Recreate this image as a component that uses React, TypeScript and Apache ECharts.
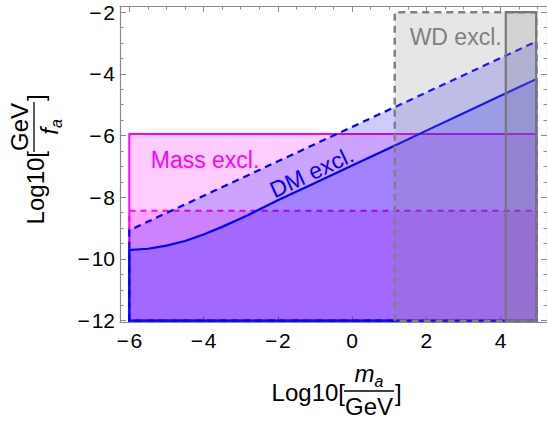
import React, { useEffect, useRef } from 'react';
import * as echarts from 'echarts';

// ---- axis ticks ----
const xMajorTicks = [-6, -4, -2, 0, 2, 4];
const xMinorTicks = [-5.5, -5, -4.5, -3.5, -3, -2.5, -1.5, -1, -0.5, 0.5, 1, 1.5, 2.5, 3, 3.5, 4.5, 5];
const yMajorTicks = [-12, -10, -8, -6, -4, -2];
const yMinorTicks = [-11.5, -11, -10.5, -9.5, -9, -8.5, -7.5, -7, -6.5, -5.5, -5, -4.5, -3.5, -3, -2.5];

// ---- regions ----
const massExclX = [-6, -6, 4.96, 4.96];
const massExclY = [-12, -5.95, -5.95, -12];
const massDashX = [-6, -6, 4.96, 4.96];
const massDashY = [-12, -8.44, -8.44, -12];

const dmDashedX = [-6, 4.96];
const dmDashedY = [-9.07, -2.95];
const dmSolidX = [-6, -5.5, -5, -4.5, -4, -3.5, -3, -2.5, -2, -1, 0, 1, 2, 3, 4, 4.96];
const dmSolidY = [-9.71, -9.67, -9.57, -9.42, -9.21, -8.96, -8.69, -8.4, -8.1, -7.54, -6.97, -6.41, -5.84, -5.28, -4.71, -4.17];
const dmFloor = -12;

const wdDashedX = [1.15, 1.15, 4.96, 4.96];
const wdDashedY = [-12, -2, -2, -12];
const wdSolidX = [4.14, 4.14, 4.96, 4.96];
const wdSolidY = [-12, -2, -2, -12];

// ---- annotations ----
const annText = ['Mass excl.', 'DM excl.', 'WD excl.'];
const annX = [-3.96, -1.09, 2.79];
const annY = [-6.8, -7.19, -2.79];
const annColor = ['#ff00ff', '#0000ff', '#808080'];
const annRotateDeg = [0, 25, 0];

const FONT = '"Liberation Sans", Arial, Helvetica, sans-serif';

const zip = (xs: number[], ys: number[]) => xs.map((x, i) => [x, ys[i]]);
const underCurve = (xs: number[], ys: number[], floor: number) =>
  [[xs[0], floor], ...zip(xs, ys), [xs[xs.length - 1], floor]];

function regionSeries(name: string, pts: number[][], fill: string, stroke: string, lineWidth: number, dash: number[] | null, z: number) {
  return {
    type: 'custom',
    name,
    xAxisIndex: 0,
    yAxisIndex: 0,
    silent: true,
    clip: true,
    z,
    data: pts,
    encode: { x: 0, y: 1 },
    renderItem: (params: any, api: any) => {
      if (params.dataIndex !== 0) return null;
      return {
        type: 'polygon',
        shape: { points: pts.map((p) => api.coord(p)) },
        style: {
          fill,
          stroke,
          lineWidth,
          lineDash: dash || undefined,
          lineJoin: 'miter',
        },
      };
    },
  };
}

const fmt = (v: number) => (v < 0 ? '\u2212\u200A' + Math.abs(v) : String(v));

function titleGroup(x: number, y: number, rotation: number, num: any[], den: any[], barHalf: number) {
  const big = `24px ${FONT}`;
  return {
    type: 'group',
    x,
    y,
    rotation,
    children: [
      { type: 'text', x: -barHalf + 1, y: 1, style: { text: 'Log10[', font: big, fill: '#000', align: 'right', verticalAlign: 'middle', textAlign: 'right', textVerticalAlign: 'middle' } },
      { type: 'line', shape: { x1: -barHalf, y1: 0, x2: barHalf, y2: 0 }, style: { stroke: '#000', lineWidth: 1.3 } },
      ...num,
      ...den,
      { type: 'text', x: barHalf + 1, y: 1, style: { text: ']', font: big, fill: '#000', align: 'left', verticalAlign: 'middle', textAlign: 'left', textVerticalAlign: 'middle' } },
    ],
  };
}

function txt(text: string, x: number, y: number, font: string, align = 'left') {
  return { type: 'text', x, y, style: { text, font, fill: '#000', align, verticalAlign: 'middle', textAlign: align, textVerticalAlign: 'middle' } };
}

export default function App() {
  const ref = useRef<HTMLDivElement>(null);
  useEffect(() => {
    if (!ref.current) return;
    const chart = echarts.init(ref.current, undefined, { renderer: 'svg' });
    const frame = '#8a8a8a';
    const xMin = -6.25, xMax = 5.25, yMin = -12.06, yMax = -1.8;

    const lineOn = { show: true, onZero: false, lineStyle: { color: frame, width: 1.2 } };
    const lineOff = { show: false, onZero: false };
    const baseX = { type: 'value', min: xMin, max: xMax, splitLine: { show: false } };
    const baseY = { type: 'value', min: yMin, max: yMax, splitLine: { show: false } };
    const majorTick = (vals: number[]) => ({ show: true, inside: true, length: 6, customValues: vals, lineStyle: { color: frame, width: 1 } });
    const minorTick = (vals: number[]) => ({ show: true, inside: true, length: 3.5, customValues: vals, lineStyle: { color: frame, width: 1 } });
    const labelStyle = { color: '#000', fontSize: 21, fontFamily: FONT, formatter: fmt };

    const it = `italic 24px ${FONT}`;
    const sub = `italic 16px ${FONT}`;
    const big = `24px ${FONT}`;

    const option: any = {
      animation: false,
      grid: { left: 120, top: 6, right: -4, bottom: 103.5, containLabel: false },
      xAxis: [
        { ...baseX, position: 'bottom', axisLine: lineOn, axisTick: majorTick(xMajorTicks), axisLabel: { ...labelStyle, customValues: xMajorTicks, margin: 7 } },
        { ...baseX, position: 'bottom', axisLine: lineOff, axisTick: minorTick(xMinorTicks), axisLabel: { show: false } },
        { ...baseX, position: 'top', axisLine: lineOn, axisTick: majorTick(xMajorTicks), axisLabel: { show: false } },
        { ...baseX, position: 'top', axisLine: lineOff, axisTick: minorTick(xMinorTicks), axisLabel: { show: false } },
      ],
      yAxis: [
        { ...baseY, position: 'left', axisLine: lineOn, axisTick: majorTick(yMajorTicks), axisLabel: { ...labelStyle, customValues: yMajorTicks, margin: 5 } },
        { ...baseY, position: 'left', axisLine: lineOff, axisTick: minorTick(yMinorTicks), axisLabel: { show: false } },
        { ...baseY, position: 'right', axisLine: lineOn, axisTick: majorTick(yMajorTicks), axisLabel: { show: false } },
        { ...baseY, position: 'right', axisLine: lineOff, axisTick: minorTick(yMinorTicks), axisLabel: { show: false } },
      ],
      series: [
        regionSeries('Mass excl.', zip(massExclX, massExclY), 'rgba(255,0,255,0.2)', '#ff00ff', 2, null, 1),
        regionSeries('Mass excl. (dashed)', zip(massDashX, massDashY), 'rgba(255,0,255,0.2)', '#ff00ff', 2, [6, 5], 2),
        regionSeries('DM excl. (dashed)', underCurve(dmDashedX, dmDashedY, dmFloor), 'rgba(0,0,255,0.2)', '#0000ff', 2.2, [7, 5], 3),
        regionSeries('DM excl.', underCurve(dmSolidX, dmSolidY, dmFloor), 'rgba(0,0,255,0.2)', '#0000ff', 2.2, null, 4),
        regionSeries('WD excl. (dashed)', zip(wdDashedX, wdDashedY), 'rgba(128,128,128,0.2)', '#808080', 2.5, [7, 5], 5),
        regionSeries('WD excl.', zip(wdSolidX, wdSolidY), 'rgba(128,128,128,0.2)', '#777777', 2.2, null, 6),
        {
          type: 'custom',
          name: 'labels',
          xAxisIndex: 0,
          yAxisIndex: 0,
          silent: true,
          z: 10,
          data: zip(annX, annY),
          encode: { x: 0, y: 1 },
          renderItem: (params: any, api: any) => {
            const i = params.dataIndex;
            const p = api.coord([annX[i], annY[i]]);
            return {
              type: 'text',
              x: p[0],
              y: p[1],
              rotation: (annRotateDeg[i] * Math.PI) / 180,
              style: {
                text: annText[i],
                fill: annColor[i],
                font: `23px ${FONT}`,
                align: 'center',
                verticalAlign: 'middle',
                textAlign: 'center',
                textVerticalAlign: 'middle',
              },
            };
          },
        },
      ],
      graphic: [
        titleGroup(369, 391, 0,
          [txt('m', -14.5, -17.3, it), txt('a', 5.5, -9.5, sub)],
          [txt('GeV', 0, 15.7, big, 'center')],
          25),
        titleGroup(34, 127, Math.PI / 2,
          [txt('GeV', 0, -14.3, big, 'center')],
          [txt('f', -7.8, 15.2, it), txt('a', -1.1, 22, sub)],
          25),
      ],
    };
    chart.setOption(option);
    return () => chart.dispose();
  }, []);
  return (
    <div
      ref={ref}
      style={{ position: 'fixed', left: 0, top: 0, width: 547, height: 426, background: '#fff' }}
    />
  );
}
